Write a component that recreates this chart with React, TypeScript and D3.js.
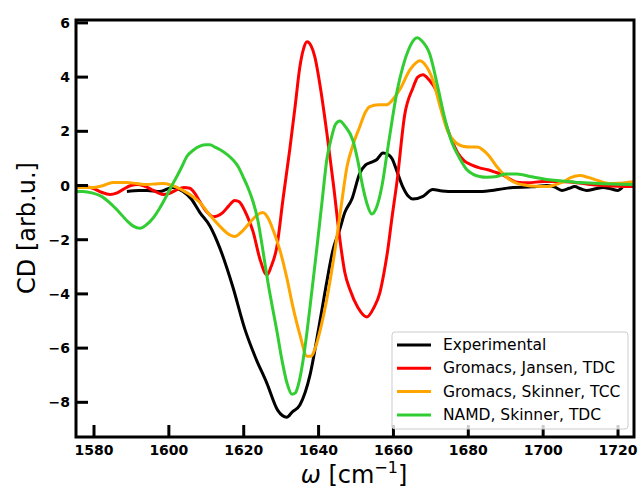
import React from "react";
import * as d3 from "d3";

const expX = [1588.8,1592,1594.2,1597.6,1601,1603.8,1606,1608.3,1611,1613.6,1617,1620.3,1623,1626.2,1629.1,1631.5,1633,1635,1637.7,1640,1642,1643.8,1645.7,1647,1648.9,1651,1652.5,1654,1655.5,1657.2,1658.5,1659.6,1661,1662.5,1664,1665.2,1667.9,1670.5,1673,1676.4,1683,1688,1692,1697,1701,1703,1705,1707,1708.4,1710,1711.6,1714,1716,1718,1720,1721.3];
const expY = [-0.22,-0.18,-0.18,-0.22,-0.07,-0.22,-0.5,-1.0,-1.5,-2.3,-3.7,-5.3,-6.3,-7.3,-8.3,-8.55,-8.35,-8.1,-7.0,-5.3,-3.7,-2.4,-1.6,-1.0,-0.5,0.45,0.75,0.85,0.95,1.2,1.15,1.0,0.5,-0.05,-0.4,-0.5,-0.4,-0.15,-0.2,-0.22,-0.22,-0.15,-0.07,-0.05,0.0,-0.05,-0.18,-0.1,-0.04,-0.12,-0.18,-0.12,-0.07,-0.12,-0.18,-0.04];

const jansenX = [1575,1577,1579.7,1582,1584.3,1586,1587.7,1589.8,1591.8,1594,1595.8,1598.4,1600,1602.2,1604,1605.6,1607,1608.3,1610,1611.8,1613,1614.4,1616,1617.6,1618.8,1619.8,1621,1622.5,1624.3,1626.2,1627.3,1628.8,1630.5,1632.3,1633.8,1635,1636,1636.9,1638,1639,1640.5,1642.2,1644,1645.7,1647,1648.4,1650.5,1652.9,1654.8,1656.4,1657.5,1658.5,1659.5,1661,1663,1665.2,1666.5,1667.9,1669.5,1671.6,1673.7,1675.5,1677.2,1679,1681,1683,1685.2,1687,1689,1691,1693,1696,1700,1704,1708,1712,1716,1720,1724.3];
const jansenY = [-0.05,-0.04,-0.1,-0.25,-0.33,-0.28,-0.15,0.0,0.04,-0.05,-0.18,-0.33,-0.3,-0.15,-0.07,-0.1,-0.3,-0.6,-0.95,-1.15,-1.12,-1.0,-0.75,-0.55,-0.6,-0.8,-1.15,-1.7,-2.7,-3.3,-3.0,-2.3,-0.5,1.33,3.0,4.38,5.05,5.3,5.15,4.75,3.6,1.95,0.0,-2.0,-3.2,-3.85,-4.5,-4.85,-4.5,-3.94,-3.2,-2.36,-1.3,0.2,2.6,3.6,4.0,4.09,3.9,3.45,2.4,1.7,1.2,0.9,0.75,0.65,0.58,0.5,0.4,0.25,0.12,0.1,0.15,0.15,0.12,0.05,0.0,-0.03,-0.04];

const skinnerTccX = [1575,1580,1582.5,1585,1588.8,1591.5,1594.2,1596.5,1598.4,1600.5,1602.2,1604,1605.6,1608.3,1611,1613.6,1615.5,1617.6,1619.5,1621.7,1623.5,1625.1,1626.5,1628,1629.7,1631.5,1633.1,1635,1636.9,1638,1639,1640.5,1642.2,1644.4,1646,1647.6,1649.2,1651,1652.5,1653.7,1656,1658.2,1660,1661.7,1664.4,1665.8,1667,1668.5,1670.5,1672.5,1674.5,1676.5,1678.5,1680.5,1682.5,1684,1685.5,1687.6,1689.5,1691,1693,1695,1698,1701,1703,1705.2,1707.5,1709.8,1712,1714.3,1717.8,1720,1724.3];
const skinnerTccY = [-0.07,-0.07,0.0,0.11,0.11,0.07,0.04,0.06,0.07,0.02,-0.07,-0.2,-0.33,-0.63,-1.1,-1.5,-1.75,-1.88,-1.7,-1.36,-1.1,-1.0,-1.2,-1.7,-2.4,-3.4,-4.45,-5.5,-6.3,-6.3,-6.04,-5.3,-4.2,-2.36,-0.8,0.7,1.5,2.17,2.7,2.91,2.98,2.98,3.2,3.54,4.27,4.5,4.6,4.45,3.9,2.9,2.0,1.6,1.45,1.42,1.42,1.3,1.1,0.7,0.4,0.22,0.08,0.02,-0.03,-0.04,0.02,0.12,0.3,0.37,0.3,0.2,0.07,0.08,0.15];

const namdX = [1575,1577,1579.7,1582,1584.3,1586.5,1588.8,1590.5,1592.3,1594,1595.8,1597.5,1599.5,1601,1602.2,1603.5,1604.8,1606.5,1608.3,1610,1611,1612.3,1613.6,1615.5,1617.1,1618.5,1619.8,1621.2,1622.5,1623.8,1624.9,1626.5,1628.9,1630.3,1631.5,1632.9,1633.8,1634.5,1635.8,1636.9,1638.2,1639.5,1641,1642.2,1643.5,1644.5,1645.7,1647,1649.2,1650.5,1651.8,1653,1654.2,1655.5,1656.9,1658.3,1659.8,1661,1662.5,1664,1665.5,1666.4,1667.5,1669.7,1671.9,1673.5,1675.6,1677.7,1679.5,1681.2,1683,1685,1687.6,1690,1693,1697,1701,1705,1709.8,1715,1720,1724.3];
const namdY = [-0.22,-0.22,-0.28,-0.4,-0.65,-0.95,-1.3,-1.5,-1.58,-1.45,-1.2,-0.85,-0.35,0.05,0.35,0.7,1.07,1.3,1.45,1.5,1.5,1.42,1.33,1.15,0.95,0.7,0.33,-0.1,-0.6,-1.3,-2.2,-3.6,-5.4,-6.5,-7.26,-7.7,-7.65,-7.4,-6.5,-5.41,-3.9,-2.36,-0.5,0.96,1.8,2.25,2.38,2.2,1.65,0.9,-0.04,-0.7,-1.05,-0.8,-0.04,1.2,2.54,3.5,4.38,5.0,5.38,5.45,5.35,4.85,3.6,2.6,1.6,1.0,0.6,0.42,0.33,0.3,0.33,0.42,0.42,0.32,0.22,0.17,0.11,0.07,0.05,0.04];

const seriesNames = ["Experimental", "Gromacs, Jansen, TDC", "Gromacs, Skinner, TCC", "NAMD, Skinner, TDC"];
const seriesColors = ["#000000", "#ff0000", "#ffa500", "#32cd32"];
const xTicks = [1580, 1600, 1620, 1640, 1660, 1680, 1700, 1720];
const yTicks = [-8, -6, -4, -2, 0, 2, 4, 6];

const W = 639, H = 488;
const L = 76, R = 634, T = 20, B = 437;

export default function App() {
  const x = d3.scaleLinear().domain([1575.19, 1724.27]).range([L, R]);
  const y = d3.scaleLinear().domain([-9.28, 6.107]).range([B, T]);
  const line = d3.line<[number, number]>().x(d => x(d[0])).y(d => y(d[1])).curve(d3.curveMonotoneX);
  const data: [number, number][][] = [
    expX.map((v, i) => [v, expY[i]]),
    jansenX.map((v, i) => [v, jansenY[i]]),
    skinnerTccX.map((v, i) => [v, skinnerTccY[i]]),
    namdX.map((v, i) => [v, namdY[i]]),
  ];
  const fmt = (v: number) => (v < 0 ? "\u2212" + Math.abs(v) : String(v));
  const font = "DejaVu Sans, sans-serif";
  return (
    <svg width={W} height={H} style={{ position: "absolute", left: 0, top: 0, background: "#fff" }} fontFamily={font}>
      <defs>
        <clipPath id="plot"><rect x={L} y={T} width={R - L} height={B - T} /></clipPath>
      </defs>
      <g clipPath="url(#plot)">
        {data.map((d, i) => (
          <path key={i} d={line(d) || ""} fill="none" stroke={seriesColors[i]} strokeWidth={3} strokeLinejoin="round" />
        ))}
      </g>
      {xTicks.map(t => (
        <g key={"x" + t}>
          <line x1={x(t)} x2={x(t)} y1={B} y2={B - 12} stroke="#000" strokeWidth={3} />
          <text x={x(t)} y={B + 18} textAnchor="middle" fontSize={14} fontWeight="bold">{t}</text>
        </g>
      ))}
      {yTicks.map(t => (
        <g key={"y" + t}>
          <line x1={L} x2={L + 12} y1={y(t)} y2={y(t)} stroke="#000" strokeWidth={3} />
          <text x={L - 6} y={y(t)} textAnchor="end" dominantBaseline="central" fontSize={14} fontWeight="bold">{fmt(t)}</text>
        </g>
      ))}
      <rect x={L} y={T} width={R - L} height={B - T} fill="none" stroke="#000" strokeWidth={3} />
      <g>
        <rect x={392} y={332} width={236} height={97} rx={3} fill="#fff" fillOpacity={0.8} stroke="#cccccc" strokeWidth={1} />
        {seriesNames.map((n, i) => {
          const ry = 345 + i * 23.3;
          return (
            <g key={n}>
              <line x1={397} x2={431} y1={ry} y2={ry} stroke={seriesColors[i]} strokeWidth={3} />
              <text x={443} y={ry} dominantBaseline="central" fontSize={15.5}>{n}</text>
            </g>
          );
        })}
      </g>
      <text transform={`translate(27,228) rotate(-90)`} textAnchor="middle" dominantBaseline="central" fontSize={24}>CD [arb.u.]</text>
      <text x={354} y={483} textAnchor="middle" fontSize={24}>
        <tspan fontStyle="italic">ω</tspan>
        <tspan> [cm</tspan>
        <tspan fontSize={16} dy={-10}>−1</tspan>
        <tspan dy={10}>]</tspan>
      </text>
    </svg>
  );
}
